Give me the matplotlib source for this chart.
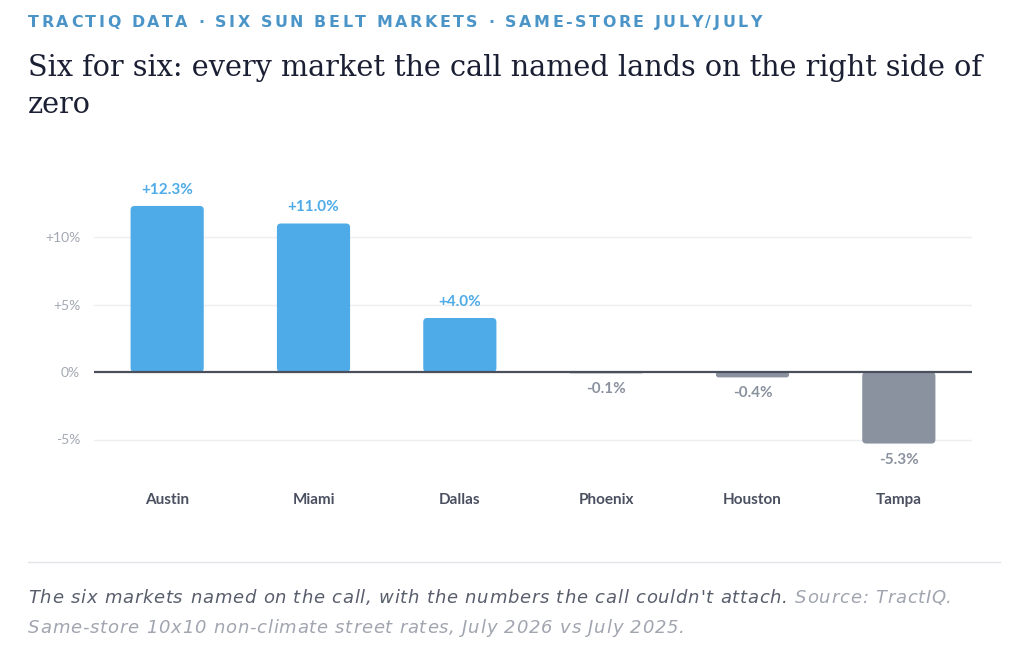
import matplotlib
matplotlib.use("Agg")
import matplotlib.pyplot as plt
from matplotlib.patches import FancyBboxPatch
from matplotlib.lines import Line2D
from matplotlib.font_manager import FontProperties

markets = ["Austin", "Miami", "Dallas", "Phoenix", "Houston", "Tampa"]
changes = [12.3, 11.0, 4.0, -0.1, -0.4, -5.3]
yticks = [-5, 0, 5, 10]
ytick_labels = ["-5%", "0%", "+5%", "+10%"]

POS = "#4eabe8"
NEG = "#8a929f"
SANS = ["Lato", "DejaVu Sans"]

W, H = 1024, 653
fig = plt.figure(figsize=(W / 100, H / 100), dpi=100)
fig.patch.set_facecolor("white")
renderer = fig.canvas.get_renderer()


def spaced_text(x_px, y_px, segments, target_w, **props):
    """Lay out text char by char with letter spacing so it spans target_w px."""
    fp = FontProperties(family=props.get("family"), size=props.get("fontsize"),
                        weight=props.get("fontweight", "normal"), style=props.get("style", "normal"))
    chars = []
    for s, col in segments:
        for ch in s:
            chars.append((ch, col))
    widths = []
    for ch, _ in chars:
        if ch == " ":
            w2 = renderer.get_text_width_height_descent("a a", fp, ismath=False)[0]
            w1 = renderer.get_text_width_height_descent("aa", fp, ismath=False)[0]
            widths.append(w2 - w1)
        else:
            widths.append(renderer.get_text_width_height_descent(ch, fp, ismath=False)[0])
    natural = sum(widths)
    sp = (target_w - natural) / max(len(chars) - 1, 1)
    x = x_px
    for (ch, col), w in zip(chars, widths):
        if ch != " ":
            fig.text(x / W, 1 - y_px / H, ch, ha="left", va="baseline", color=col,
                     fontproperties=fp)
        x += w + sp


ymin, ymax = -7.5, 14.5
px_per_unit = 13.5
top_px = 372 - ymax * px_per_unit
bot_px = 372 - ymin * px_per_unit
left_px, right_px = 94, 972
ax = fig.add_axes([left_px / W, 1 - bot_px / H, (right_px - left_px) / W, (bot_px - top_px) / H])
ax.set_xlim(-0.5, 5.5)
ax.set_ylim(ymin, ymax)

colors = [POS if v >= 0 else NEG for v in changes]
bars = ax.bar(range(len(markets)), changes, width=0.5, color=colors, zorder=2)

xpx = (right_px - left_px) / 6.0
aspect = xpx / px_per_unit
for b, c in zip(bars, colors):
    x0, y0 = b.get_x(), b.get_y()
    w, h = b.get_width(), b.get_height()
    b.set_visible(False)
    y_lo, y_hi = min(y0, y0 + h), max(y0, y0 + h)
    r = min(4.0, abs(h) * px_per_unit / 2) / xpx
    p = FancyBboxPatch((x0, y_lo), w, y_hi - y_lo,
                       boxstyle=f"round,pad=0,rounding_size={r}",
                       mutation_aspect=aspect, facecolor=c, edgecolor="none", zorder=2)
    ax.add_patch(p)

for i, v in enumerate(changes):
    txt = f"{v:+.1f}%"
    if v >= 0:
        ax.annotate(txt, (i, v), xytext=(0, 6.5), textcoords="offset points",
                    ha="center", va="bottom", color=POS, fontsize=11,
                    fontweight="bold", family=SANS)
    else:
        ax.annotate(txt, (i, v), xytext=(0, -6.5), textcoords="offset points",
                    ha="center", va="top", color=NEG, fontsize=11,
                    fontweight="bold", family=SANS)

for t in yticks:
    if t == 0:
        ax.axhline(0, color="#4a4f5c", lw=1.6, zorder=3)
    else:
        ax.axhline(t, color="#eceef2", lw=1.0, zorder=1)

ax.set_yticks(yticks)
ax.set_yticklabels(ytick_labels)
ax.set_xticks(range(len(markets)))
ax.set_xticklabels(markets)
ax.tick_params(axis="y", length=0, pad=10, labelsize=10, labelcolor="#a3a8b3")
ax.tick_params(axis="x", length=0, pad=14, labelsize=11, labelcolor="#4a5060")
for lab in ax.get_xticklabels():
    lab.set_fontweight("bold")
    lab.set_family(SANS)
for lab in ax.get_yticklabels():
    lab.set_family(SANS)
for s in ax.spines.values():
    s.set_visible(False)

# header
spaced_text(28, 27, [("TRACTIQ DATA · SIX SUN BELT MARKETS · SAME-STORE JULY/JULY", "#4a94c8")],
            734, family=["DejaVu Sans"], fontsize=11.4, fontweight="bold")

SERIF = ["DejaVu Serif"]
fig.text(28 / W, 1 - 68 / H, "Six for six: every market the call named lands on the right side of",
         ha="left", va="center", color="#1b1f33", fontsize=20.7, family=SERIF)
fig.text(28 / W, 1 - 105 / H, "zero",
         ha="left", va="center", color="#1b1f33", fontsize=20.7, family=SERIF)

fig.add_artist(Line2D([28 / W, 1000 / W], [1 - 562 / H, 1 - 562 / H],
                      transform=fig.transFigure, color="#e3e5ea", lw=1.0))

spaced_text(28, 603, [("The six markets named on the call, with the numbers the call couldn't attach.", "#585e6c"),
                      (" Source: TractIQ.", "#a0a5b0")],
            924, family=["DejaVu Sans"], fontsize=13, style="italic")
spaced_text(28, 633, [("Same-store 10x10 non-climate street rates, July 2026 vs July 2025.", "#a0a5b0")],
            657, family=["DejaVu Sans"], fontsize=13, style="italic")

fig.savefig("out.png", dpi=100, facecolor="white")
